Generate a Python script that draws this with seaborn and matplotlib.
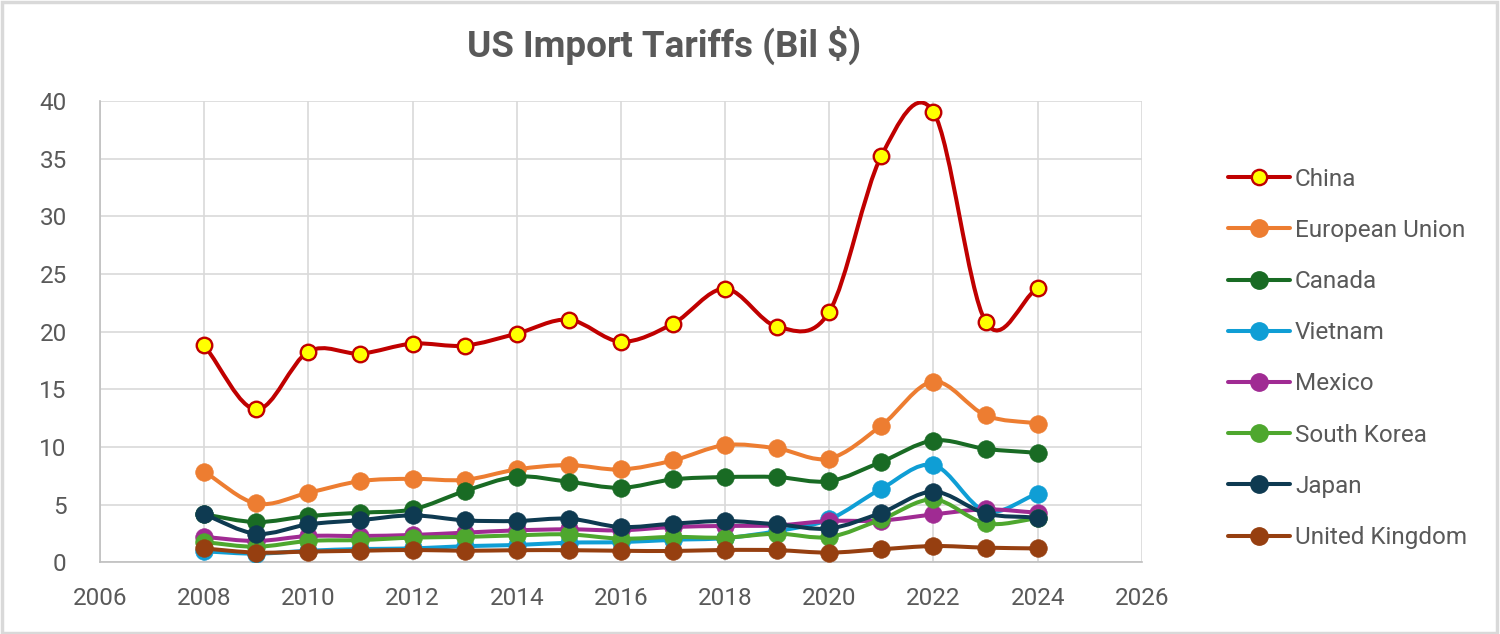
import numpy as np
import pandas as pd
import matplotlib
matplotlib.use("Agg")
import matplotlib.pyplot as plt
from matplotlib.path import Path
from matplotlib.patches import PathPatch, Rectangle
from matplotlib.lines import Line2D
import seaborn as sns

years = list(range(2008, 2025))
china = [18.8, 13.25, 18.27, 18.1, 18.96, 18.79, 19.83, 21.04, 19.13, 20.69, 23.72, 20.43, 21.73, 35.24, 39.05, 20.87, 23.8]
eu = [7.85, 5.1, 6.03, 7.04, 7.24, 7.15, 8.05, 8.43, 8.05, 8.83, 10.16, 9.87, 9.0, 11.86, 15.67, 12.75, 12.03]
canada = [4.15, 3.49, 4.01, 4.3, 4.59, 6.17, 7.42, 6.98, 6.46, 7.19, 7.39, 7.39, 7.04, 8.71, 10.56, 9.84, 9.49]
vietnam = [0.95, 0.75, 1.0, 1.15, 1.2, 1.4, 1.5, 1.7, 1.75, 1.95, 2.1, 2.71, 3.72, 6.38, 8.43, 4.44, 5.95]
mexico = [2.2, 1.85, 2.28, 2.28, 2.37, 2.57, 2.77, 2.86, 2.77, 3.06, 3.15, 3.2, 3.58, 3.62, 4.15, 4.59, 4.3]
south_korea = [1.75, 1.35, 1.85, 1.93, 2.14, 2.2, 2.34, 2.42, 2.05, 2.2, 2.14, 2.48, 2.2, 3.72, 5.45, 3.38, 3.81]
japan = [4.15, 2.48, 3.29, 3.66, 4.07, 3.64, 3.58, 3.78, 3.06, 3.35, 3.58, 3.29, 2.94, 4.3, 6.12, 4.24, 3.87]
uk = [1.2, 0.84, 0.93, 1.0, 1.07, 1.0, 1.05, 1.05, 1.0, 0.98, 1.07, 1.05, 0.84, 1.13, 1.41, 1.27, 1.2]

countries = ["China", "European Union", "Canada", "Vietnam", "Mexico", "South Korea", "Japan", "United Kingdom"]
series = [china, eu, canada, vietnam, mexico, south_korea, japan, uk]
colors = ["#C00000", "#ED7D31", "#196B24", "#0F9ED5", "#A02B93", "#4EA72E", "#0E3A51", "#963F10"]

x_ticks = list(range(2006, 2027, 2))
y_ticks = list(range(0, 41, 5))

sns.set_theme(style="white")
plt.rcParams['font.family'] = ['Roboto', 'DejaVu Sans']
TXT = "#595959"

fig = plt.figure(figsize=(15, 6.34), dpi=100)
ax = fig.add_axes([0.0667, 0.1131, 0.6945, 0.7276])


def smooth_path(xs, ys):
    xs = np.asarray(xs, float)
    ys = np.asarray(ys, float)
    n = len(xs)
    tx = np.zeros(n)
    ty = np.zeros(n)
    for i in range(n):
        if i == 0:
            tx[i], ty[i] = xs[1] - xs[0], ys[1] - ys[0]
        elif i == n - 1:
            tx[i], ty[i] = xs[-1] - xs[-2], ys[-1] - ys[-2]
        else:
            tx[i], ty[i] = (xs[i + 1] - xs[i - 1]) / 2, (ys[i + 1] - ys[i - 1]) / 2
    verts = [(xs[0], ys[0])]
    codes = [Path.MOVETO]
    for i in range(n - 1):
        verts += [(xs[i] + tx[i] / 3, ys[i] + ty[i] / 3),
                  (xs[i + 1] - tx[i + 1] / 3, ys[i + 1] - ty[i + 1] / 3),
                  (xs[i + 1], ys[i + 1])]
        codes += [Path.CURVE4] * 3
    return Path(verts, codes)


LW = 2.9
for k, (name, vals, col) in enumerate(zip(countries, series, colors)):
    z = 3 + k * 2
    ax.add_patch(PathPatch(smooth_path(years, vals), fill=False, edgecolor=col,
                           lw=LW, zorder=z, capstyle='round', joinstyle='round'))
    df = pd.DataFrame({"year": years, "value": vals})
    if name == "China":
        sns.scatterplot(data=df, x="year", y="value", ax=ax, s=125, color="#FFFF00",
                        edgecolor=col, linewidth=1.7, zorder=z + 1, legend=False)
    else:
        sns.scatterplot(data=df, x="year", y="value", ax=ax, s=160, color=col,
                        edgecolor=col, linewidth=0.5, zorder=z + 1, legend=False)

ax.set_xlim(2006, 2026)
ax.set_ylim(0, 40)
ax.set_xticks(x_ticks)
ax.set_yticks(y_ticks)
ax.set_xlabel("")
ax.set_ylabel("")
ax.grid(True, color="#D9D9D9", lw=1.2, zorder=0)
ax.set_axisbelow(True)
for s in ["top", "right"]:
    ax.spines[s].set_visible(False)
ax.spines["left"].set_color("#BFBFBF")
ax.spines["bottom"].set_color("#BFBFBF")
ax.spines["left"].set_linewidth(1.2)
ax.spines["bottom"].set_linewidth(1.2)
ax.tick_params(axis="both", length=0, labelsize=17.5, labelcolor=TXT)
ax.tick_params(axis="y", pad=24)
ax.tick_params(axis="x", pad=18)

fig.text(0.4427, 0.928, "US Import Tariffs (Bil $)", ha="center", va="center",
         fontsize=26.5, fontweight="bold", color=TXT)

handles = []
for name, col in zip(countries, colors):
    if name == "China":
        h = Line2D([0], [0], color=col, lw=LW, marker="o", markersize=11,
                   markerfacecolor="#FFFF00", markeredgecolor=col, markeredgewidth=1.7)
    else:
        h = Line2D([0], [0], color=col, lw=LW, marker="o", markersize=12.5,
                   markerfacecolor=col, markeredgecolor=col)
    handles.append(h)
leg = fig.legend(handles, countries, loc="upper left", bbox_to_anchor=(0.8187, 0.7355),
                 frameon=False, fontsize=17.5, handlelength=2.55, handletextpad=0.2,
                 labelspacing=1.16, borderaxespad=0, borderpad=0)
for t in leg.get_texts():
    t.set_color(TXT)

fig.add_artist(Rectangle((0.001, 0.002), 0.997, 0.995, transform=fig.transFigure,
                         fill=False, edgecolor="#D9D9D9", lw=2.5))

fig.savefig("out.png", dpi=100, facecolor="white")
